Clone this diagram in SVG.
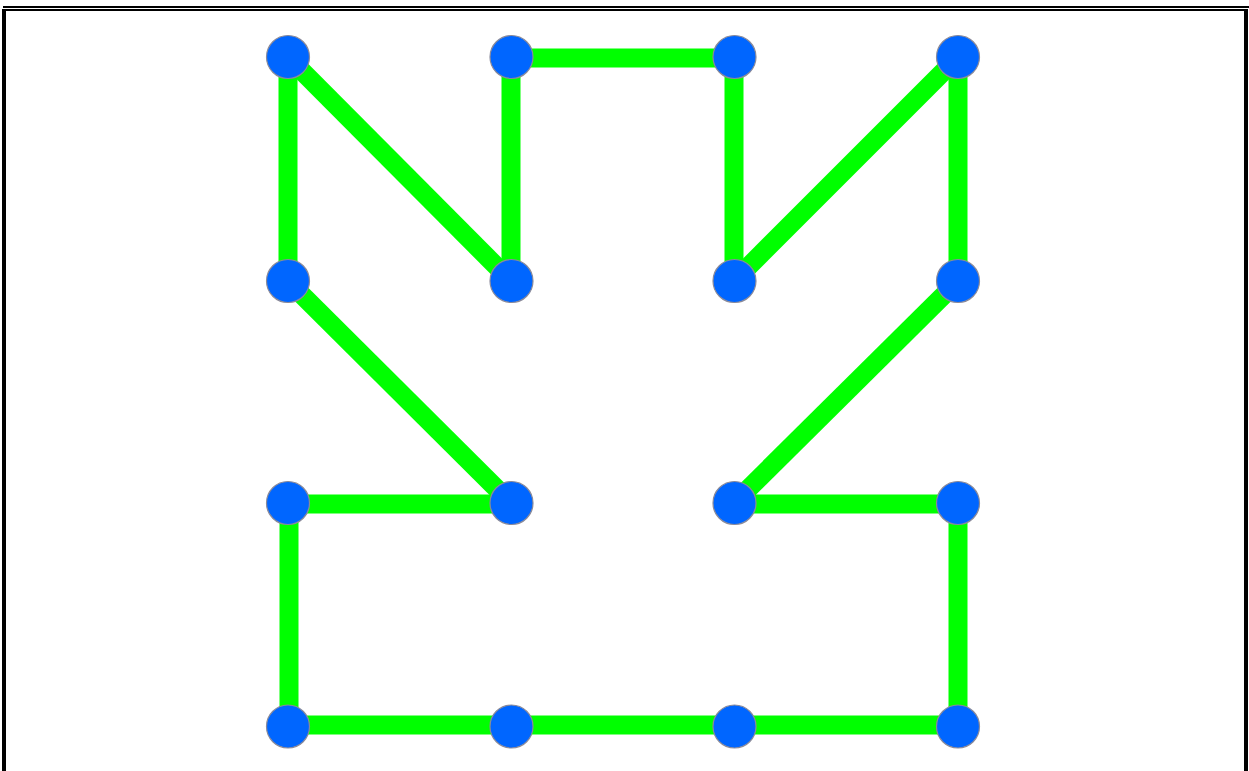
<svg xmlns="http://www.w3.org/2000/svg" width="1249" height="771" viewBox="0 0 1249 771">
<style>
.edge{stroke:#00FF00;stroke-width:19;stroke-linecap:butt;fill:none}
.node{fill:#0066FF;stroke:#8a8a9a;stroke-width:1.2}
.frame{fill:#000}
</style>
<rect x="0" y="0" width="1249" height="771" fill="#fff"/>
<g id="frame">
<rect class="frame" x="3" y="6" width="1246" height="2"/>
<rect class="frame" x="2" y="9" width="1246" height="2"/>
<rect class="frame" x="2" y="9" width="4" height="762"/>
<rect class="frame" x="1244" y="9" width="4" height="762"/>
</g>
<g id="connectors">
<line class="edge" x1="288" y1="57" x2="288" y2="281"/>
<line class="edge" x1="288" y1="57" x2="511" y2="281"/>
<line class="edge" x1="511" y1="281" x2="511" y2="57"/>
<line class="edge" x1="511" y1="58" x2="734" y2="58"/>
<line class="edge" x1="734" y1="57" x2="734" y2="281"/>
<line class="edge" x1="734" y1="281" x2="958" y2="57"/>
<line class="edge" x1="958" y1="57" x2="958" y2="281"/>
<line class="edge" x1="288" y1="281" x2="511" y2="503"/>
<line class="edge" x1="958" y1="281" x2="734" y2="503"/>
<line class="edge" x1="288" y1="504" x2="511" y2="504"/>
<line class="edge" x1="734" y1="504" x2="958" y2="504"/>
<line class="edge" x1="289" y1="503" x2="289" y2="726"/>
<line class="edge" x1="958" y1="503" x2="958" y2="726"/>
<line class="edge" x1="288" y1="725" x2="958" y2="725"/>
</g>
<g id="n11"><circle class="node" cx="288" cy="57" r="21.5"/></g>
<g id="n21"><circle class="node" cx="511.5" cy="57" r="21.5"/></g>
<g id="n31"><circle class="node" cx="734.5" cy="57" r="21.5"/></g>
<g id="n41"><circle class="node" cx="958" cy="57" r="21.5"/></g>
<g id="n12"><circle class="node" cx="288" cy="281" r="21.5"/></g>
<g id="n22"><circle class="node" cx="511.5" cy="281" r="21.5"/></g>
<g id="n32"><circle class="node" cx="734.5" cy="281" r="21.5"/></g>
<g id="n42"><circle class="node" cx="958" cy="281" r="21.5"/></g>
<g id="n13"><circle class="node" cx="288" cy="503" r="21.5"/></g>
<g id="n23"><circle class="node" cx="511.5" cy="503" r="21.5"/></g>
<g id="n33"><circle class="node" cx="734.5" cy="503" r="21.5"/></g>
<g id="n43"><circle class="node" cx="958" cy="503" r="21.5"/></g>
<g id="n14"><circle class="node" cx="288" cy="726.5" r="21.5"/></g>
<g id="n24"><circle class="node" cx="511.5" cy="726.5" r="21.5"/></g>
<g id="n34"><circle class="node" cx="734.5" cy="726.5" r="21.5"/></g>
<g id="n44"><circle class="node" cx="958" cy="726.5" r="21.5"/></g>
</svg>
